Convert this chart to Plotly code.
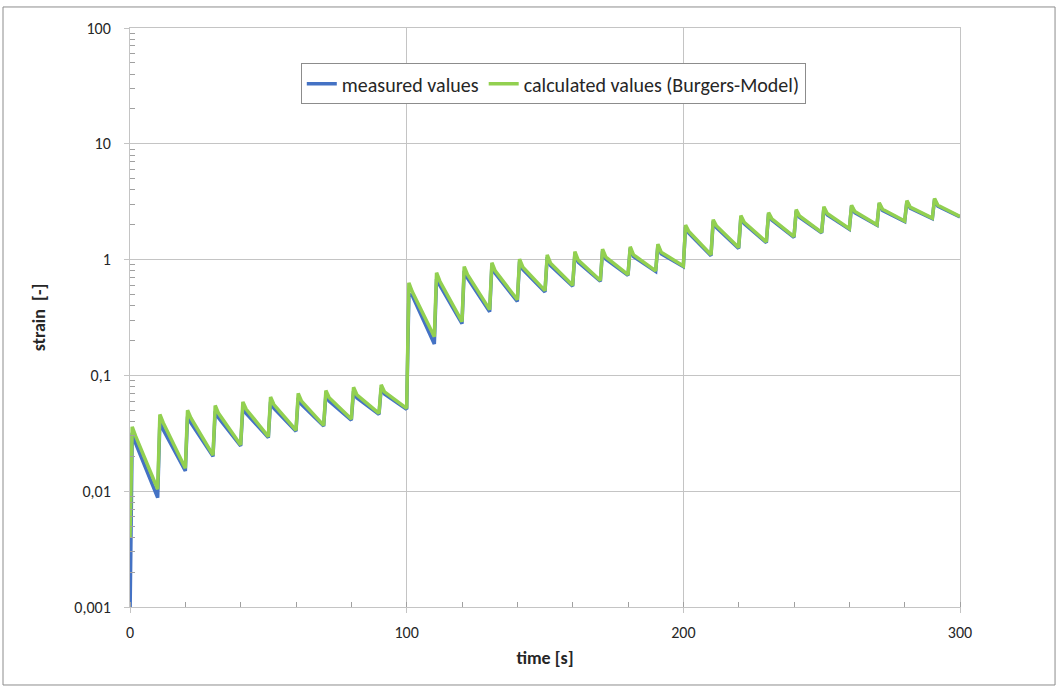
import plotly.graph_objects as go

# time [s]
time_s = [0,
    0.8, 2, 10, 10.8, 12, 20, 20.8, 22, 30, 30.8, 32, 40, 40.8, 42, 50,
    50.8, 52, 60, 60.8, 62, 70, 70.8, 72, 80, 80.8, 82, 90, 90.8, 92, 100,
    100.8, 102, 110, 110.8, 112, 120, 120.8, 122, 130, 130.8, 132, 140, 140.8, 142, 150,
    150.8, 152, 160, 160.8, 162, 170, 170.8, 172, 180, 180.8, 182, 190, 190.8, 192, 200,
    200.8, 202, 210, 210.8, 212, 220, 220.8, 222, 230, 230.8, 232, 240, 240.8, 242, 250,
    250.8, 252, 260, 260.8, 262, 270, 270.8, 272, 280, 280.8, 282, 290, 290.8, 292, 300]

measured = [0.0008,
    0.032, 0.026, 0.0088, 0.040, 0.034, 0.0150, 0.044, 0.039, 0.0200, 0.049, 0.043, 0.0246, 0.053, 0.047, 0.0290,
    0.059, 0.052, 0.0330, 0.064, 0.056, 0.0365, 0.068, 0.060, 0.0410, 0.073, 0.064, 0.0460, 0.078, 0.069, 0.0510,
    0.50, 0.49, 0.187, 0.68, 0.60, 0.280, 0.80, 0.69, 0.355, 0.88, 0.76, 0.435, 0.96, 0.82, 0.525,
    1.05, 0.89, 0.590, 1.12, 0.95, 0.650, 1.19, 1.01, 0.730, 1.25, 1.06, 0.790, 1.32, 1.12, 0.870,
    1.92, 1.69, 1.08, 2.14, 1.89, 1.25, 2.33, 2.04, 1.40, 2.48, 2.19, 1.56, 2.63, 2.32, 1.70,
    2.79, 2.44, 1.83, 2.89, 2.54, 1.98, 3.04, 2.66, 2.13, 3.17, 2.78, 2.26, 3.31, 2.89, 2.34]

calculated = [0.004,
    0.036, 0.030, 0.0104, 0.046, 0.039, 0.0158, 0.050, 0.043, 0.0205, 0.055, 0.047, 0.0251, 0.059, 0.051, 0.0296,
    0.065, 0.056, 0.0336, 0.070, 0.060, 0.0370, 0.074, 0.064, 0.0420, 0.079, 0.068, 0.0470, 0.083, 0.072, 0.0520,
    0.63, 0.53, 0.216, 0.77, 0.65, 0.291, 0.87, 0.74, 0.370, 0.94, 0.80, 0.450, 1.01, 0.86, 0.540,
    1.10, 0.93, 0.600, 1.17, 0.99, 0.660, 1.23, 1.05, 0.740, 1.29, 1.10, 0.800, 1.36, 1.16, 0.880,
    1.99, 1.75, 1.10, 2.21, 1.95, 1.27, 2.40, 2.10, 1.42, 2.55, 2.25, 1.58, 2.70, 2.38, 1.72,
    2.86, 2.50, 1.85, 2.95, 2.60, 2.00, 3.10, 2.72, 2.15, 3.23, 2.84, 2.28, 3.37, 2.95, 2.36]

y_tickvals = [0.001, 0.01, 0.1, 1, 10, 100]
y_ticktext = ["0,001", "0,01", "0,1", "1", "10", "100"]
x_tickvals = [0, 100, 200, 300]

y_minor = [m * d for d in [0.001, 0.01, 0.1, 1, 10] for m in range(2, 10)]

FONT = "Carlito, Calibri, Lato, sans-serif"
GRID = "#c4c4c4"

fig = go.Figure()
fig.add_trace(go.Scatter(x=time_s, y=measured, mode="lines", name="measured values",
                         line=dict(color="#4472C4", width=3.5)))
fig.add_trace(go.Scatter(x=time_s, y=calculated, mode="lines",
                         name="calculated values (Burgers-Model)",
                         line=dict(color="#92D050", width=3.5)))

fig.update_layout(
    width=1059, height=686,
    margin=dict(l=130, r=99, t=28, b=79),
    paper_bgcolor="white", plot_bgcolor="white",
    font=dict(family=FONT, size=16, color="#262626"),
    showlegend=True,
    legend=dict(orientation="h", x=0.51, y=0.939, xanchor="center", yanchor="top",
                bordercolor="#8c8c8c", borderwidth=1, bgcolor="white",
                font=dict(family=FONT, size=20, color="#262626"),
                itemwidth=30, tracegroupgap=0),
    xaxis=dict(range=[0, 300], tickmode="array", tickvals=x_tickvals,
               showgrid=True, gridcolor=GRID, gridwidth=1,
               showline=True, linecolor=GRID, linewidth=1, mirror=True,
               ticks="outside", ticklen=5, tickcolor=GRID, ticklabelstandoff=6,
               minor=dict(dtick=20, ticks="inside", ticklen=5, tickcolor="#a0a0a0", showgrid=False),
               zeroline=False, tickfont=dict(size=16),
               title=dict(text="<b>time [s]</b>", font=dict(size=18), standoff=10)),
    yaxis=dict(type="log", range=[-3, 2], tickmode="array", tickvals=y_tickvals, ticktext=y_ticktext,
               showgrid=True, gridcolor=GRID, gridwidth=1,
               showline=True, linecolor=GRID, linewidth=1, mirror=True,
               ticks="outside", ticklen=5, tickcolor=GRID, ticklabelstandoff=10,
               minor=dict(tickmode="array", tickvals=y_minor, ticks="inside", ticklen=5,
                          tickcolor="#a0a0a0", showgrid=False),
               zeroline=False, tickfont=dict(size=16),
               title=dict(text="<b>strain &nbsp;[-]</b>", font=dict(size=18), standoff=24)),
    shapes=[dict(type="rect", xref="paper", yref="paper",
                 x0=-0.153, x1=1.1145, y0=-0.1347, y1=1.0363,
                 line=dict(color="#8c8c8c", width=1), fillcolor="rgba(0,0,0,0)", layer="below")],
)

fig.write_html("out.html")
